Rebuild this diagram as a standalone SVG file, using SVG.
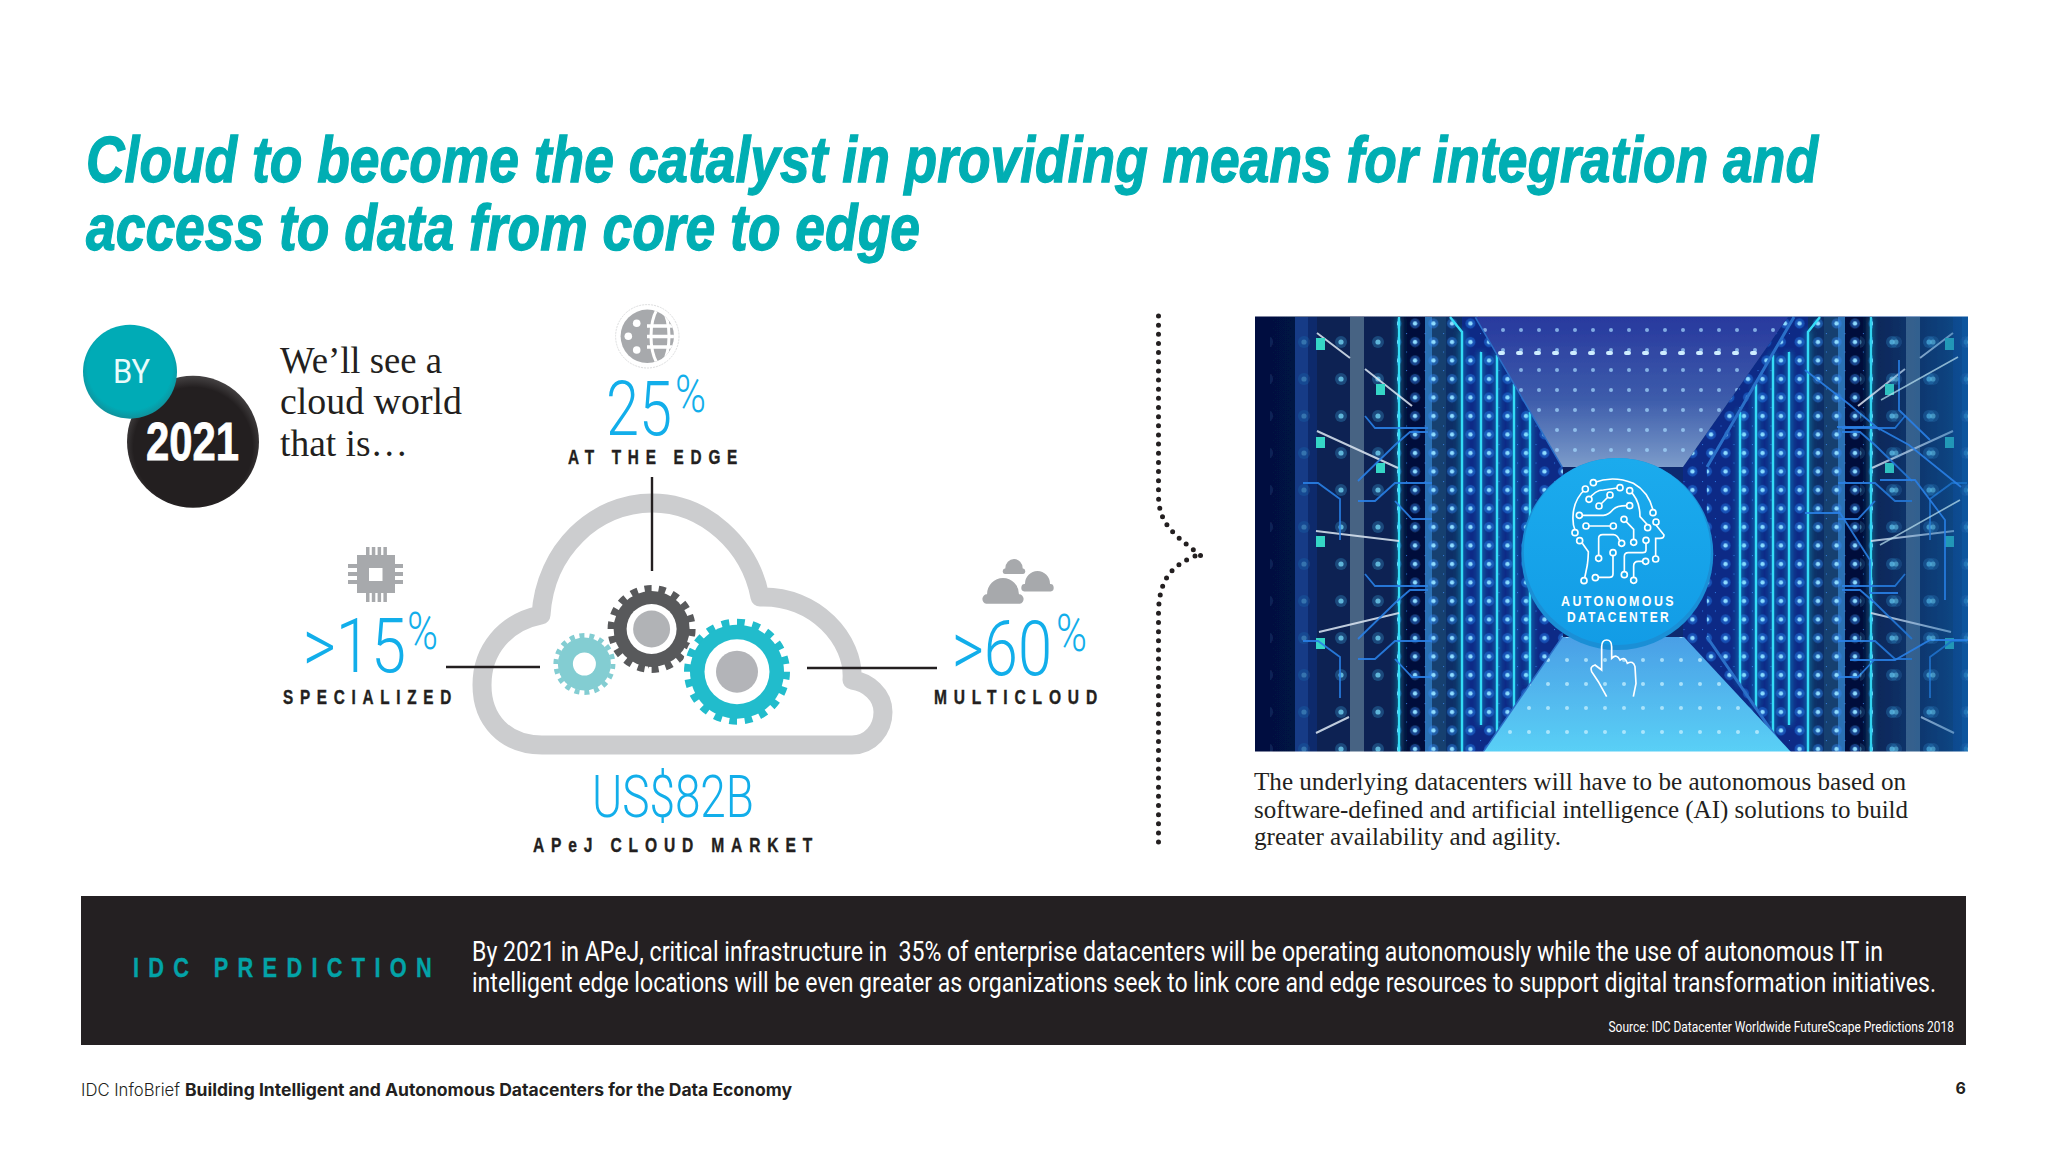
<svg xmlns="http://www.w3.org/2000/svg" xmlns:xlink="http://www.w3.org/1999/xlink" width="2048" height="1152" viewBox="0 0 2048 1152">
<style>
.ttl{font:italic 700 64px "Liberation Sans",Arial,sans-serif;fill:#00aeb3;stroke:#00aeb3;stroke-width:1.3px}
.num{font:300 76px Roboto,"Liberation Sans",sans-serif;fill:#12aeea}
.pct{font:300 52px Roboto,"Liberation Sans",sans-serif;fill:#12aeea}
.lbl{font:700 20.5px "Liberation Sans",Arial,sans-serif;fill:#231f20;letter-spacing:9px;stroke:#231f20;stroke-width:.4px}
.ser{font:37px "Liberation Serif","Times New Roman",serif;fill:#231f20}
.cap{font:24.5px "Liberation Serif","Times New Roman",serif;fill:#231f20}
.ban{font:400 27.5px Roboto,"Liberation Sans",sans-serif;fill:#fff}
.ft{font:300 17px Inter,"Liberation Sans",sans-serif;fill:#231f20}
.ftb{font:700 17px Inter,"Liberation Sans",sans-serif;fill:#231f20}
.ln{stroke:#231f20;stroke-width:2.4;fill:none}
.dot{fill:none;stroke:#231f20;stroke-width:5;stroke-linecap:round;stroke-dasharray:0 9.15}
.tr{fill:none;stroke:#2a7fe6;stroke-width:1.8;opacity:.9}
.sh{fill:none;stroke:#dfe9f4;stroke-width:2;opacity:.85}
.hd path{fill:none;stroke:#fff;stroke-width:5}
.hd circle{fill:#14a5ea;stroke:#fff;stroke-width:5;r:9px}
.gr{fill:#a7a9ac}
</style>
<defs>
<radialGradient id="gBy" cx=".5" cy=".46" r=".55"><stop offset=".82" stop-color="#00abb6"/><stop offset="1" stop-color="#128e98"/></radialGradient>
<radialGradient id="gBk" cx=".5" cy=".54" r=".55"><stop offset=".82" stop-color="#231f20"/><stop offset="1" stop-color="#4a4748"/></radialGradient>
<linearGradient id="gBase" x1="0" x2="1" y1="0" y2="0"><stop offset="0" stop-color="#05103f"/><stop offset=".4" stop-color="#08205f"/><stop offset="1" stop-color="#0c3f92"/></linearGradient>
<linearGradient id="gCeil" x1="0" x2="0" y1="0" y2="1"><stop offset="0" stop-color="#28399e"/><stop offset=".55" stop-color="#3d5cab"/><stop offset="1" stop-color="#7c9cca"/></linearGradient>
<linearGradient id="gFloor" x1="0" x2="0" y1="0" y2="1"><stop offset="0" stop-color="#4a9fe6"/><stop offset="1" stop-color="#5ad0f6"/></linearGradient>
<linearGradient id="gBtn" x1="0" x2="0" y1="0" y2="1"><stop offset="0" stop-color="#1babed"/><stop offset="1" stop-color="#129ce6"/></linearGradient>
<linearGradient id="gFade" x1="0" x2="1" y1="0" y2="0"><stop offset="0" stop-color="#0c4f9c" stop-opacity="0"/><stop offset="1" stop-color="#0f66ad" stop-opacity=".65"/></linearGradient>
<pattern id="pD" width="18.5" height="18.5" patternUnits="userSpaceOnUse"><circle cx="9" cy="9" r="5" fill="#2f8dff" opacity=".4"/><circle cx="9" cy="9" r="2.2" fill="#8fdcff"/><circle cx="0" cy="0" r="1.2" fill="#3f8fff" opacity=".7"/></pattern>
<pattern id="pS" width="37" height="37" patternUnits="userSpaceOnUse"><circle cx="9" cy="9" r="6" fill="#3f9fe0" opacity=".3"/><circle cx="9" cy="9" r="2.6" fill="#6fd0f0" opacity=".8"/></pattern>
<pattern id="pC" width="18" height="20" patternUnits="userSpaceOnUse"><circle cx="9" cy="10" r="2" fill="#a6dcff" opacity=".7"/></pattern>
<pattern id="pF" width="19" height="24" patternUnits="userSpaceOnUse"><circle cx="9" cy="12" r="2" fill="#c5f0ff" opacity=".75"/></pattern>
<filter id="bl" x="-30%" y="-5%" width="160%" height="110%"><feGaussianBlur stdDeviation="3"/></filter>
<filter id="soft" x="0" y="0" width="100%" height="100%"><feGaussianBlur stdDeviation=".7"/></filter>
<clipPath id="cP"><rect x="1255" y="316.5" width="713" height="435"/></clipPath>
<clipPath id="cG"><circle cx="647.3" cy="336.3" r="26.7"/></clipPath>
<path id="cl" d="M10 60A10 11 0 0 1 12 38A38 38 0 0 1 88 38A10 11 0 0 1 90 60Z"/>
<g id="side">
<rect x="1295" y="317" width="13" height="435" fill="#123b86"/>
<rect x="1308" y="317" width="9" height="435" fill="#0d2b6c"/>
<rect x="1317" y="317" width="80" height="435" fill="#0a2352"/>
<rect x="1350" y="317" width="14" height="435" fill="#5f7f98" opacity=".7"/>
<rect x="1397" y="317" width="28" height="435" fill="#040f3a"/>
<rect x="1425" y="317" width="7" height="435" fill="#2c6fb4"/>
<rect x="1432" y="317" width="14" height="435" fill="#17406f"/>
<rect x="1446" y="317" width="16" height="435" fill="#0d2f66"/>
<path d="M1462 317H1476L1563 467V637L1484 752H1462Z" fill="#0a2a86"/>
<path d="M1397 317H1563V752H1397Z" fill="url(#pD)" clip-path="polygon(0 0,47% 0,100% 35%,100% 74%,52% 100%,0 100%)"/>
<path d="M1317 317H1397V752H1317Z" fill="url(#pS)"/>
<rect x="1270" y="317" width="40" height="435" fill="url(#pS)" opacity=".45"/>
<path d="M1399 317V752M1462 330V752M1481 352V725M1497 353V733M1514 382V708M1530 410V685" stroke="#27d8f4" stroke-width="3" fill="none" filter="url(#bl)" opacity=".7"/>
<path d="M1399 317V752M1450 317L1462 332V752M1481 352V725M1497 355V733M1514 384V708M1530 412V685" stroke="#35dcf6" stroke-width="2.4" fill="none"/>
<path d="M1476 317L1563 467M1484 752L1563 637" stroke="#2c6fc8" stroke-width="3" fill="none"/>
<path class="sh" d="M1317 333L1350 358M1365 369L1412 406M1317 431L1398 468M1316 531L1399 541M1319 632L1399 613M1316 733L1349 717"/>
<g fill="#35d6c6"><rect x="1316" y="338" width="9" height="12"/><rect x="1376" y="384" width="9" height="11"/><rect x="1316" y="437" width="9" height="11"/><rect x="1376" y="463" width="9" height="10"/><rect x="1316" y="536" width="9" height="11"/><rect x="1316" y="638" width="9" height="11"/></g>
<path class="tr" d="M1365 416L1375 428H1428M1358 481L1395 445L1410 432H1428M1358 501H1375L1395 483H1432M1395 501L1412 519H1432M1303 483H1318L1340 499V540"/>
<path class="tr" transform="translate(0 158)" d="M1365 416L1375 428H1428M1358 481L1395 445L1410 432H1428M1358 501H1375L1395 483H1432M1395 501L1412 519H1432M1303 483H1318L1340 499V540"/>
</g>
</defs>
<rect width="2048" height="1152" fill="#fff"/>

<g id="title">
<text class="ttl" x="86" y="182" textLength="1732" lengthAdjust="spacingAndGlyphs">Cloud to become the catalyst in providing means for integration and</text>
<text class="ttl" x="86" y="250" textLength="834" lengthAdjust="spacingAndGlyphs">access to data from core to edge</text>
</g>

<g id="badge-2021">
<circle cx="193" cy="441.7" r="66" fill="url(#gBk)"/>
<text x="146" y="460" font-family="'Liberation Sans',Arial,sans-serif" font-weight="700" font-size="54" fill="#fff" stroke="#fff" stroke-width=".8" textLength="93" lengthAdjust="spacingAndGlyphs">2021</text>
</g>
<g id="badge-by">
<circle cx="130" cy="371.7" r="47" fill="url(#gBy)"/>
<text x="113" y="383" font-family="Roboto,'Liberation Sans',sans-serif" font-weight="400" font-size="34" fill="#e8fbfb" textLength="37" lengthAdjust="spacingAndGlyphs">BY</text>
</g>
<g id="intro">
<text class="ser" x="280" y="372.7" textLength="162" lengthAdjust="spacingAndGlyphs">We’ll see a</text>
<text class="ser" x="280" y="414" textLength="182" lengthAdjust="spacingAndGlyphs">cloud world</text>
<text class="ser" x="280" y="455.7" textLength="128" lengthAdjust="spacingAndGlyphs">that is…</text>
</g>

<g id="cloud">
<path d="M542 745H852C870 745 883 730 883 712C883 695 868 682 852 680C855 640 815 595 760 597C750 545 705 503 652 503C595 503 545 550 541 615C505 622 482 650 482 685C482 720 505 745 542 745Z" fill="#fff" stroke="#cccdcf" stroke-width="19" stroke-linejoin="round"/>
</g>

<g id="gear-dark">
<circle cx="651.6" cy="629" r="40.5" fill="none" stroke="#58595b" stroke-width="7" pathLength="36" stroke-dasharray="1 1"/>
<circle cx="651.6" cy="629" r="38" fill="#58595b"/>
<circle cx="651.6" cy="629" r="25" fill="#fff"/>
<circle cx="651.6" cy="629" r="18.5" fill="#b1b3b6"/>
</g>
<g id="gear-light">
<circle cx="584.4" cy="664" r="28.5" fill="none" stroke="#83cdd2" stroke-width="5" pathLength="36" stroke-dasharray="1 1"/>
<circle cx="584.4" cy="664" r="26.5" fill="#83cdd2"/>
<circle cx="584.4" cy="664" r="11.5" fill="#fff"/>
</g>
<g id="gear-teal">
<circle cx="737" cy="671.7" r="55" fill="#fff"/>
<circle cx="737" cy="671.7" r="49.5" fill="none" stroke="#21bccc" stroke-width="7" pathLength="40" stroke-dasharray="1 1"/>
<circle cx="737" cy="671.7" r="47" fill="#21bccc"/>
<circle cx="737" cy="671.7" r="32.5" fill="#fff"/>
<circle cx="737" cy="671.7" r="21" fill="#b3b4b8"/>
</g>

<g id="connectors">
<path class="ln" d="M652 477V571"/>
<path class="ln" d="M446 667H540"/>
<path class="ln" d="M807 668H937"/>
<path class="dot" d="M1158.5 316V495C1158.5 525 1175 535 1201 556"/>
<path class="dot" d="M1195 556C1175 565 1160 575 1158.5 610V849"/>
</g>

<g id="edge">
<circle cx="647.3" cy="336.3" r="31.7" fill="none" stroke="#dcddde" stroke-width="1" stroke-dasharray="2 1"/>
<circle class="gr" cx="647.3" cy="336.3" r="26.7"/>
<g clip-path="url(#cG)" fill="none" stroke="#fff" stroke-width="3.5">
<path d="M647 326H680M647 336.5H680M647 347H680"/>
<path d="M660 305C648 320 648 352 660 368M660 305C672 320 672 352 660 368" stroke-width="3"/>
</g>
<circle cx="636.7" cy="323.3" r="3.8" fill="#fff"/><circle cx="628.3" cy="336.3" r="3.8" fill="#fff"/><circle cx="636.7" cy="350" r="3.8" fill="#fff"/>
<text class="num" x="606" y="435" textLength="66" lengthAdjust="spacingAndGlyphs">25</text>
<text class="pct" x="675" y="412" textLength="31" lengthAdjust="spacingAndGlyphs">%</text>
<text class="lbl" x="568" y="464" textLength="176" lengthAdjust="spacingAndGlyphs">AT THE EDGE</text>
</g>

<g id="specialized">
<path class="gr" d="M357 555H395V593H357ZM369 568V581H382.5V568Z" fill-rule="evenodd"/>
<path class="gr" d="M366 547h3.5v8h-3.5zM371.8 547h3.5v8h-3.5zM377.6 547h3.5v8h-3.5zM383.4 547h3.5v8h-3.5zM366 593h3.5v9h-3.5zM371.8 593h3.5v9h-3.5zM377.6 593h3.5v9h-3.5zM383.4 593h3.5v9h-3.5zM348 564h9v4h-9zM348 572h9v4h-9zM348 580h9v4h-9zM395 564h8v4h-8zM395 572h8v4h-8zM395 580h8v4h-8z"/>
<text class="num" x="303" y="672" textLength="103" lengthAdjust="spacingAndGlyphs">&gt;15</text>
<text class="pct" x="407" y="649" textLength="31" lengthAdjust="spacingAndGlyphs">%</text>
<text class="lbl" x="283" y="704" textLength="175" lengthAdjust="spacingAndGlyphs">SPECIALIZED</text>
</g>

<g id="multicloud">
<use href="#cl" class="gr" transform="translate(982 578) scale(.42 .43)"/>
<use href="#cl" class="gr" transform="translate(1021 571) scale(.33 .34)"/>
<use href="#cl" class="gr" transform="translate(1002.5 559) scale(.23 .25)"/>
<text class="num" x="952" y="675" textLength="100" lengthAdjust="spacingAndGlyphs">&gt;60</text>
<text class="pct" x="1056" y="651" textLength="31" lengthAdjust="spacingAndGlyphs">%</text>
<text class="lbl" x="934" y="704" textLength="170" lengthAdjust="spacingAndGlyphs">MULTICLOUD</text>
</g>

<g id="market">
<text class="num" style="font-size:60px" x="592" y="817" textLength="162" lengthAdjust="spacingAndGlyphs">US$82B</text>
<text class="lbl" x="533" y="852" textLength="286" lengthAdjust="spacingAndGlyphs">APeJ CLOUD MARKET</text>
</g>

<g id="photo" clip-path="url(#cP)">
<g filter="url(#soft)">
<rect x="1255" y="316" width="713" height="436" fill="url(#gBase)"/>
<path d="M1788 317L1683 467V637L1791 752H1810V317Z" fill="#0a2a86"/>
<path d="M1788 317L1683 467V637L1791 752H1810V317Z" fill="url(#pD)"/>
<use href="#side"/>
<use href="#side" transform="translate(3270 0) scale(-1 1)"/>
<rect x="1860" y="316" width="110" height="436" fill="url(#gFade)"/>
<path class="tr" d="M1837 427H1876L1909 445L1961 487M1805 370L1850 405L1880 430M1805 513H1840L1870 560V593H1898M1880 480H1915L1945 520V600M1850 660H1895L1930 640H1968M1899 360V410L1930 440"/>
<path d="M1881 400L1958 357M1880 545L1960 500" stroke="#bfe6f4" stroke-width="1.6" opacity=".7" fill="none"/>
<rect x="1860" y="316" width="108" height="436" fill="url(#pS)" opacity=".6"/>
<path d="M1476 317H1788L1683 467H1563Z" fill="url(#gCeil)"/>
<path d="M1476 317H1788L1683 467H1563Z" fill="url(#pC)"/>
<path d="M1500 353H1762" stroke="#cfeeff" stroke-width="4" stroke-dasharray="3 15" stroke-linecap="round"/>
<path d="M1484 752H1791L1684 637H1563Z" fill="url(#gFloor)"/>
<path d="M1484 752H1791L1684 637H1563Z" fill="url(#pF)"/>
</g>
</g>

<g id="autonomous-datacenter">
<circle cx="1617.3" cy="554" r="96" fill="#1a8fd6"/>
<circle cx="1617.3" cy="551.5" r="93.5" fill="url(#gBtn)"/>
<g class="hd" transform="translate(1480 450) scale(.33333)">
<path d="M340 98Q400 75 460 100Q505 125 519 180M316 117Q280 150 279 200Q278 225 285 240M327 148Q345 120 370 120L412 114M357 168L390 135M449 122Q480 150 480 200L503 225M306 196H370Q385 196 400 178Q410 167 440 167M326 228H392M438 214L461 238V268M528 225L552 255Q552 265 540 265H527V318M307 280L325 305Q325 320 322 345L314 384M356 316V265Q356 254 368 254H400Q412 254 419 272M399 317V372Q399 382 388 382H355M498 280V300Q498 308 488 308H445Q433 308 433 320V365M488 334H475Q461 334 461 348V382"/>
<circle cx="340" cy="98"/><circle cx="316" cy="117"/><circle cx="420" cy="113"/><circle cx="449" cy="122"/><circle cx="390" cy="135"/><circle cx="327" cy="148"/><circle cx="357" cy="168"/><circle cx="449" cy="167"/><circle cx="519" cy="188"/><circle cx="298" cy="196"/><circle cx="432" cy="208"/><circle cx="528" cy="216"/><circle cx="503" cy="233"/><circle cx="318" cy="228"/><circle cx="400" cy="228"/><circle cx="285" cy="248"/><circle cx="299" cy="272"/><circle cx="425" cy="280"/><circle cx="461" cy="277"/><circle cx="498" cy="271"/><circle cx="356" cy="325"/><circle cx="399" cy="308"/><circle cx="527" cy="327"/><circle cx="497" cy="334"/><circle cx="433" cy="374"/><circle cx="346" cy="383"/><circle cx="312" cy="392"/><circle cx="461" cy="391"/>
<path d="M380 740L355 695L335 665Q328 650 345 645L365 660V590Q365 570 380 570Q395 570 395 590V625Q410 610 420 630Q435 618 442 640Q460 630 465 650L468 700L460 740" stroke-width="6"/>
</g>
<text x="1561" y="606" font-family="'Liberation Sans',Arial,sans-serif" font-weight="700" font-size="15.5" letter-spacing="3" fill="#fff" textLength="115" lengthAdjust="spacingAndGlyphs">AUTONOMOUS</text>
<text x="1567" y="621.7" font-family="'Liberation Sans',Arial,sans-serif" font-weight="700" font-size="15.5" letter-spacing="3" fill="#fff" textLength="104" lengthAdjust="spacingAndGlyphs">DATACENTER</text>
</g>

<g id="caption">
<text class="cap" x="1254" y="790" textLength="652" lengthAdjust="spacingAndGlyphs">The underlying datacenters will have to be autonomous based on</text>
<text class="cap" x="1254" y="817.5" textLength="654" lengthAdjust="spacingAndGlyphs">software-defined and artificial intelligence (AI) solutions to build</text>
<text class="cap" x="1254" y="845" textLength="307" lengthAdjust="spacingAndGlyphs">greater availability and agility.</text>
</g>

<g id="prediction">
<rect x="81" y="896" width="1885" height="149" fill="#242022"/>
<text x="133" y="977" font-family="'Liberation Sans',Arial,sans-serif" font-weight="700" font-size="28" letter-spacing="12" fill="#03a3a8" stroke="#03a3a8" stroke-width=".4" textLength="308" lengthAdjust="spacingAndGlyphs">IDC PREDICTION</text>
<text class="ban" x="472" y="961" textLength="1411" lengthAdjust="spacingAndGlyphs" xml:space="preserve">By 2021 in APeJ, critical infrastructure in  35% of enterprise datacenters will be operating autonomously while the use of autonomous IT in</text>
<text class="ban" x="472" y="992" textLength="1464" lengthAdjust="spacingAndGlyphs">intelligent edge locations will be even greater as organizations seek to link core and edge resources to support digital transformation initiatives.</text>
<text x="1608.5" y="1032" font-family="Roboto,'Liberation Sans',sans-serif" font-size="14.5" fill="#fff" textLength="345.5" lengthAdjust="spacingAndGlyphs">Source: IDC Datacenter Worldwide FutureScape Predictions 2018</text>
</g>

<g id="footer">
<text class="ft" x="81" y="1096" textLength="99" lengthAdjust="spacingAndGlyphs">IDC InfoBrief</text>
<text class="ftb" x="185" y="1096" textLength="607" lengthAdjust="spacingAndGlyphs">Building Intelligent and Autonomous Datacenters for the Data Economy</text>
<text x="1955.5" y="1094" font-family="Inter,'Liberation Sans',sans-serif" font-weight="700" font-size="16" fill="#231f20">6</text>
</g>
</svg>
